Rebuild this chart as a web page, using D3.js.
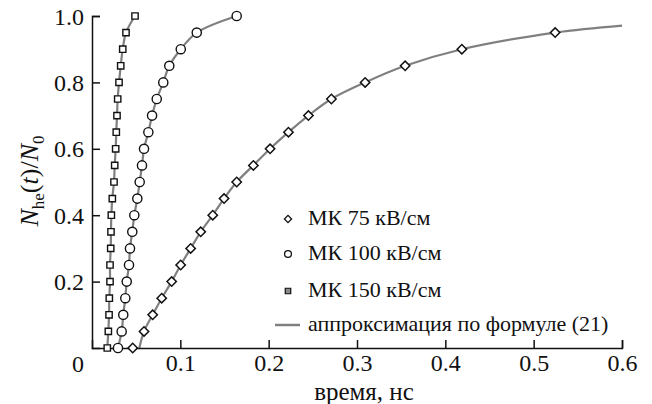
<!DOCTYPE html>
<html>
<head>
<meta charset="utf-8">
<script src="https://cdn.jsdelivr.net/npm/d3@7"></script>
<style>
  body { margin: 0; background: #fff; }
</style>
</head>
<body>
<div id="chart"></div>
<script>
// fraction levels N_he(t)/N_0 shared by the MC series
const levels = [0, 0.05, 0.1, 0.15, 0.2, 0.25, 0.3, 0.35, 0.4, 0.45, 0.5,
                0.55, 0.6, 0.65, 0.7, 0.75, 0.8, 0.85, 0.9, 0.95, 1.0];

// times (ns)
const t75 = [0.0461, 0.0589, 0.0687, 0.0789, 0.0902, 0.1004, 0.1117, 0.1231, 0.1367, 0.1495,
             0.1638, 0.1827, 0.2016, 0.2224, 0.2450, 0.2710, 0.3092, 0.3545, 0.4187, 0.5243];
const t100 = [0.0294, 0.0336, 0.0354, 0.0377, 0.0393, 0.0419, 0.0430, 0.0456, 0.0479, 0.0513,
              0.0540, 0.0566, 0.0589, 0.0638, 0.0680, 0.0733, 0.0807, 0.0875, 0.1005, 0.1186, 0.1638];
const t150 = [0.0173, 0.0185, 0.0193, 0.0196, 0.0204, 0.0204, 0.0212, 0.0215, 0.0219, 0.0230,
              0.0249, 0.0257, 0.0268, 0.0275, 0.0283, 0.0291, 0.0306, 0.0325, 0.0348, 0.0385, 0.0487];

// approximation curve (21) for 75 kV/cm runs past the last point
const fit75T = [0.0536, 0.0589, 0.0687, 0.0789, 0.0902, 0.1004, 0.1117, 0.1231, 0.1367, 0.1495,
                0.1638, 0.1827, 0.2016, 0.2224, 0.2450, 0.2710, 0.3092, 0.3545, 0.4187, 0.5243, 0.6];
const fit75N = [0, 0.05, 0.1, 0.15, 0.2, 0.25, 0.3, 0.35, 0.4, 0.45, 0.5,
                0.55, 0.6, 0.65, 0.7, 0.75, 0.8, 0.85, 0.9, 0.95, 0.971];

const xTicks = [0.1, 0.2, 0.3, 0.4, 0.5, 0.6];
const yTicks = [0.2, 0.4, 0.6, 0.8, 1.0];
const legendLabels = ['МК 75 кВ/см', 'МК 100 кВ/см', 'МК 150 кВ/см', 'аппроксимация по формуле (21)'];

const FONT = '"Liberation Serif", "DejaVu Serif", serif';
const W = 652, H = 404;
const svg = d3.select('#chart').append('svg')
    .attr('width', W).attr('height', H)
    .style('font-family', FONT);

const xScale = d3.scaleLinear().domain([0, 0.6]).range([92, 622]);
const yScale = d3.scaleLinear().domain([0, 1]).range([348, 16]);

const toPts = (ts, ns) => ts.map((t, i) => [t, ns[i]]);
const line = d3.line()
    .x(d => xScale(d[0]))
    .y(d => yScale(d[1]))
    .curve(d3.curveCatmullRom.alpha(0.5));

// fit lines
const fits = [toPts(fit75T, fit75N), toPts(t100, levels), toPts(t150, levels)];
svg.append('g').selectAll('path')
    .data(fits)
    .join('path')
    .attr('d', line)
    .attr('fill', 'none')
    .attr('stroke', '#808080')
    .attr('stroke-width', 2.2);

// axes
const xAxis = d3.axisBottom(xScale).tickValues(xTicks).tickSize(-8).tickPadding(8)
    .tickFormat(d3.format('.1f'));
const yAxis = d3.axisLeft(yScale).tickValues(yTicks).tickSize(-8).tickPadding(8)
    .tickFormat(d3.format('.1f'));

const gx = svg.append('g').attr('transform', `translate(0,${yScale(0)})`).call(xAxis);
const gy = svg.append('g').attr('transform', `translate(${xScale(0)},0)`).call(yAxis);
[gx, gy].forEach(g => {
    g.attr('font-family', FONT).attr('font-size', 24);
    g.select('.domain').attr('stroke', '#111').attr('stroke-width', 1.5);
    g.selectAll('.tick line').attr('stroke', '#111').attr('stroke-width', 1.5);
    g.selectAll('.tick text').attr('fill', '#111');
});
gy.selectAll('.tick text').attr('dy', '0.34em');
gx.selectAll('.tick text').attr('dy', '0.64em');
svg.append('text').attr('x', 78).attr('y', 372)
    .attr('text-anchor', 'middle').attr('font-size', 24).attr('fill', '#111').text('0');

// markers
const sym = (type, size) => d3.symbol().type(type).size(size)();
const plotG = svg.append('g');
plotG.selectAll('.dia').data(toPts(t75, levels)).join('path')
    .attr('d', sym(d3.symbolSquare, 44))
    .attr('transform', d => `translate(${xScale(d[0])},${yScale(d[1])}) rotate(45)`)
    .attr('fill', '#fff').attr('stroke', '#111').attr('stroke-width', 1.5);
plotG.selectAll('.cir').data(toPts(t100, levels)).join('circle')
    .attr('cx', d => xScale(d[0])).attr('cy', d => yScale(d[1])).attr('r', 4.6)
    .attr('fill', '#fff').attr('stroke', '#111').attr('stroke-width', 1.4);
plotG.selectAll('.sq').data(toPts(t150, levels)).join('path')
    .attr('d', sym(d3.symbolSquare, 40))
    .attr('transform', d => `translate(${xScale(d[0])},${yScale(d[1])})`)
    .attr('fill', '#fff').attr('stroke', '#111').attr('stroke-width', 1.4);

// legend
const leg = svg.append('g');
const legY = [219, 254, 291, 325];
leg.append('path').attr('d', sym(d3.symbolSquare, 26))
    .attr('transform', `translate(288,${legY[0]}) rotate(45)`)
    .attr('fill', '#fff').attr('stroke', '#111').attr('stroke-width', 1.3);
leg.append('circle').attr('cx', 288).attr('cy', legY[1]).attr('r', 3.4)
    .attr('fill', '#fff').attr('stroke', '#111').attr('stroke-width', 1.3);
leg.append('path').attr('d', sym(d3.symbolSquare, 30))
    .attr('transform', `translate(288,${legY[2]})`)
    .attr('fill', '#8a8a8a').attr('stroke', '#111').attr('stroke-width', 1.2);
leg.append('line').attr('x1', 275).attr('x2', 300).attr('y1', legY[3]).attr('y2', legY[3])
    .attr('stroke', '#808080').attr('stroke-width', 2.5);
leg.selectAll('text').data(legendLabels).join('text')
    .attr('x', 308).attr('y', (d, i) => legY[i] + 6)
    .attr('font-size', 22).attr('fill', '#111')
    .text(d => d);

// axis titles
svg.append('text').attr('x', 364).attr('y', 399.5).attr('text-anchor', 'middle')
    .attr('font-size', 25).attr('fill', '#111').text('время, нс');

const yl = svg.append('text')
    .attr('transform', 'translate(38,181) rotate(-90)')
    .attr('text-anchor', 'middle').attr('font-size', 26).attr('fill', '#111');
yl.append('tspan').style('font-style', 'italic').text('N');
yl.append('tspan').attr('dy', 6).attr('font-size', 17).text('he');
yl.append('tspan').attr('dy', -6).text('(');
yl.append('tspan').style('font-style', 'italic').text('t');
yl.append('tspan').text(')/');
yl.append('tspan').style('font-style', 'italic').text('N');
yl.append('tspan').attr('dy', 6).attr('font-size', 17).text('0');
</script>
</body>
</html>
